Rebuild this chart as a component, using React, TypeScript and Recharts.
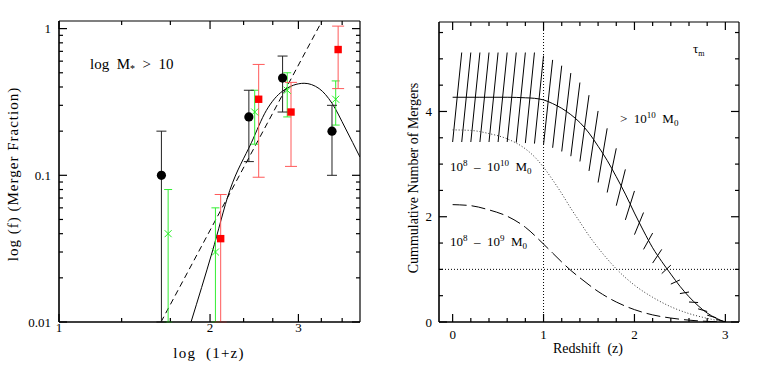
import React from 'react';
import { ComposedChart, Line, Scatter, XAxis, YAxis, ErrorBar, ReferenceLine } from 'recharts';

const FONT = '"Liberation Serif", "Times New Roman", serif';

// ---------- Left panel data ----------
const blackX = [1.6, 2.39, 2.79, 3.5];
const blackY = [0.1, 0.25, 0.46, 0.2];
const blackLo = [0.01, 0.124, 0.27, 0.1];
const blackHi = [0.2, 0.38, 0.65, 0.3];

const redX = [2.1, 2.5, 2.9, 3.6];
const redY = [0.037, 0.33, 0.27, 0.72];
const redLo = [0.01, 0.097, 0.115, 0.39];
const redHi = [0.074, 0.57, 0.43, 1.04];

const greenX = [1.65, 2.05, 2.455, 2.85, 3.56];
const greenY = [0.04, 0.03, 0.27, 0.38, 0.33];
const greenLo = [0.01, 0.01, 0.163, 0.25, 0.22];
const greenHi = [0.08, 0.06, 0.38, 0.5, 0.44];

const modelX = [1.833, 2.02, 2.19, 2.42, 2.59, 2.79, 3.08, 3.3, 3.5, 3.72, 3.98];
const modelY = [0.01, 0.03, 0.079, 0.168, 0.277, 0.375, 0.424, 0.39, 0.31, 0.21, 0.133];

const powerX = [1.597, 3.34];
const powerY = [0.01, 1.12];

const leftXDomain = [1, 3.98];
const leftYDomain = [0.01, 1.127];
const leftXTicks = [1, 1.333, 1.667, 2, 2.333, 2.667, 3, 3.333, 3.667];
const leftXMajor = [1, 2, 3];
const leftXLabels = ['1', '2', '3'];
const leftYTicks = [0.01, 0.02, 0.03, 0.04, 0.05, 0.06, 0.07, 0.08, 0.09, 0.1, 0.2, 0.3, 0.4, 0.5, 0.6, 0.7, 0.8, 0.9, 1];
const leftYMajor = [0.01, 0.1, 1];
const leftYLabels = ['0.01', '0.1', '1'];

// ---------- Right panel data ----------
const zSolid = [0, 0.3, 0.6, 0.8, 0.9, 1.0, 1.1, 1.2, 1.3, 1.4, 1.5, 1.6, 1.7, 1.8, 1.9, 2.0, 2.1, 2.2, 2.3, 2.4, 2.5, 2.6, 2.7, 2.8, 2.9, 3.0];
const nSolid = [4.27, 4.27, 4.27, 4.26, 4.25, 4.22, 4.15, 4.06, 3.94, 3.79, 3.59, 3.34, 3.07, 2.76, 2.43, 2.07, 1.73, 1.41, 1.15, 0.91, 0.68, 0.48, 0.31, 0.17, 0.07, 0.0];

const zDotted = [0, 0.2, 0.4, 0.6, 0.8, 0.9, 1.0, 1.1, 1.2, 1.3, 1.4, 1.5, 1.6, 1.7, 1.8, 2.0, 2.2, 2.4, 2.6, 2.8, 3.0];
const nDotted = [3.65, 3.64, 3.58, 3.48, 3.29, 3.14, 2.94, 2.7, 2.44, 2.16, 1.9, 1.64, 1.41, 1.2, 1.01, 0.7, 0.47, 0.29, 0.16, 0.07, 0.0];

const zDashed = [0, 0.2, 0.4, 0.6, 0.8, 1.0, 1.1, 1.2, 1.3, 1.4, 1.6, 1.8, 2.0, 2.2, 2.4, 2.6, 2.8, 3.0];
const nDashed = [2.23, 2.21, 2.13, 2.01, 1.8, 1.48, 1.31, 1.14, 0.98, 0.84, 0.58, 0.38, 0.235, 0.135, 0.075, 0.035, 0.012, 0.0];

const hatchStart = [0, 0.1, 0.2, 0.3, 0.4, 0.5, 0.6, 0.7, 0.8, 0.9, 1.0, 1.1, 1.2, 1.3, 1.4, 1.5, 1.6, 1.7, 1.8, 1.9, 2.0, 2.1, 2.2, 2.3, 2.4, 2.5, 2.6, 2.7, 2.8, 2.9];
const hatchEnd = [0.1, 0.2, 0.3, 0.4, 0.5, 0.6, 0.7, 0.8, 0.9, 1.0, 1.1, 1.2, 1.3, 1.4, 1.5, 1.6, 1.7, 1.8, 1.9, 2.0, 2.1, 2.2, 2.3, 2.4, 2.5, 2.6, 2.7, 2.8, 2.9, 3.0];
const hatchLo = [3.42, 3.42, 3.42, 3.42, 3.42, 3.42, 3.42, 3.41, 3.4, 3.39, 3.37, 3.31, 3.24, 3.15, 3.05, 2.87, 2.65, 2.46, 2.21, 1.94, 1.66, 1.38, 1.12, 0.92, 0.72, 0.54, 0.38, 0.25, 0.13, 0.05];
const hatchHi = [5.12, 5.12, 5.12, 5.12, 5.12, 5.12, 5.12, 5.12, 5.12, 5.06, 4.98, 4.87, 4.73, 4.55, 4.31, 4.01, 3.68, 3.3, 2.9, 2.49, 2.08, 1.69, 1.38, 1.08, 0.8, 0.57, 0.37, 0.2, 0.08, 0.0];

const rightXDomain = [-0.15, 3.15];
const rightYDomain = [0, 5.7];
const rightXTicks = [0, 0.2, 0.4, 0.6, 0.8, 1, 1.2, 1.4, 1.6, 1.8, 2, 2.2, 2.4, 2.6, 2.8, 3];
const rightXMajor = [0, 1, 2, 3];
const rightXLabels = ['0', '1', '2', '3'];
const rightYTicks = [0, 0.5, 1, 1.5, 2, 2.5, 3, 3.5, 4, 4.5, 5, 5.5];
const rightYMajor = [0, 2, 4];
const rightYLabels = ['0', '2', '4'];

// ---------- Derived tables ----------
const PLOT = 301; // plot box size in px (both panels are ~301 px square)
const toPoints = (xs: number[], ys: number[]) => xs.map((x, i) => ({ x, y: ys[i] }));
const toErr = (xs: number[], ys: number[], lo: number[], hi: number[]) =>
  xs.map((x, i) => ({ x, y: ys[i], err: [ys[i] - lo[i], hi[i] - ys[i]] }));

const near = (a: number, b: number) => Math.abs(a - b) < 1e-6;
const isMajor = (majors: number[], v: number) => majors.some((m) => near(m, v));
const tickLen = (majors: number[], v: number) => (isMajor(majors, v) ? 8 : 4);

// move a domain value by px pixels along a log or linear axis
const stepLog = (d: number[], v: number, px: number) => v * Math.pow(d[1] / d[0], px / PLOT);
const stepLin = (d: number[], v: number, px: number) => v + ((d[1] - d[0]) * px) / PLOT;

type Seg = [{ x: number; y: number }, { x: number; y: number }];
const tickSegments = (
  xt: number[], xm: number[], yt: number[], ym: number[], xd: number[], yd: number[],
  sx: (d: number[], v: number, px: number) => number, sy: (d: number[], v: number, px: number) => number,
): Seg[] => [
  ...xt.flatMap((v): Seg[] => [
    [{ x: v, y: yd[0] }, { x: v, y: sy(yd, yd[0], tickLen(xm, v)) }],
    [{ x: v, y: yd[1] }, { x: v, y: sy(yd, yd[1], -tickLen(xm, v)) }],
  ]),
  ...yt.flatMap((v): Seg[] => [
    [{ x: xd[0], y: v }, { x: sx(xd, xd[0], tickLen(ym, v)), y: v }],
    [{ x: xd[1], y: v }, { x: sx(xd, xd[1], -tickLen(ym, v)), y: v }],
  ]),
];

const blackData = toErr(blackX, blackY, blackLo, blackHi);
const redData = toErr(redX, redY, redLo, redHi);
const greenData = toErr(greenX, greenY, greenLo, greenHi);
const modelData = toPoints(modelX, modelY);
const powerData = toPoints(powerX, powerY);
const solidData = toPoints(zSolid, nSolid);
const dottedData = toPoints(zDotted, nDotted);
const dashedData = toPoints(zDashed, nDashed);
const hatchData = hatchStart.map((z, i) => [
  { x: z, y: hatchLo[i] },
  { x: hatchEnd[i], y: hatchHi[i] },
]);
const leftTickSegs = tickSegments(leftXTicks, leftXMajor, leftYTicks, leftYMajor, leftXDomain, leftYDomain, stepLog, stepLog);
const rightTickSegs = tickSegments(rightXTicks, rightXMajor, rightYTicks, rightYMajor, rightXDomain, rightYDomain, stepLin, stepLin);

// axis tick labels (majors only)
const makeLabel = (side: 'bottom' | 'left', majors: number[], labels: string[], gap: number) => (props: any) => {
  const x = Number(props.x);
  const y = Number(props.y);
  const mi = majors.findIndex((m) => near(m, props.payload.value));
  if (mi < 0) return <g />;
  return side === 'bottom' ? (
    <text x={x} y={y + gap} textAnchor="middle" dominantBaseline="central" fontFamily={FONT} fontSize={13} fill="#000">{labels[mi]}</text>
  ) : (
    <text x={x - gap} y={y} textAnchor="end" dominantBaseline="central" fontFamily={FONT} fontSize={13} fill="#000">{labels[mi]}</text>
  );
};

const CircleShape = (p: any) => <circle cx={p.cx} cy={p.cy} r={4.6} fill="#000" />;
const SquareShape = (p: any) => <rect x={p.cx - 3.7} y={p.cy - 3.7} width={7.4} height={7.4} fill="#ff0000" />;
const CrossShape = (p: any) => (
  <g stroke="#22ee22" strokeWidth={1}>
    <line x1={p.cx - 3.5} y1={p.cy - 3.5} x2={p.cx + 3.5} y2={p.cy + 3.5} />
    <line x1={p.cx - 3.5} y1={p.cy + 3.5} x2={p.cx + 3.5} y2={p.cy - 3.5} />
  </g>
);

const lineCommon = { dot: false, activeDot: false, isAnimationActive: false, dataKey: 'y' };

const Frame = (xd: number[], yd: number[]) => [
  <ReferenceLine key="f1" x={xd[0]} stroke="#000" strokeWidth={1.2} />,
  <ReferenceLine key="f2" x={xd[1]} stroke="#000" strokeWidth={1.2} />,
  <ReferenceLine key="f3" y={yd[0]} stroke="#000" strokeWidth={1.2} />,
  <ReferenceLine key="f4" y={yd[1]} stroke="#000" strokeWidth={1.2} />,
];

const LeftChart = () => (
  <ComposedChart width={380} height={381} margin={{ top: 21, right: 20, bottom: 0, left: 0 }}>
    <XAxis type="number" dataKey="x" scale="log" domain={leftXDomain} ticks={leftXTicks} height={59} interval={0}
      tickSize={0} tickMargin={0} tickLine={false} axisLine={{ stroke: '#000' }} allowDataOverflow
      tick={makeLabel('bottom', leftXMajor, leftXLabels, 5)} />
    <YAxis type="number" dataKey="y" scale="log" domain={leftYDomain} ticks={leftYTicks} width={59} interval={0}
      tickSize={0} tickMargin={0} tickLine={false} axisLine={{ stroke: '#000' }} allowDataOverflow
      tick={makeLabel('left', leftYMajor, leftYLabels, 8)} />
    {Frame(leftXDomain, leftYDomain)}
    {leftTickSegs.map((s, i) => (
      <ReferenceLine key={'lt' + i} segment={s} stroke="#000" strokeWidth={1.2} />
    ))}
    <Line {...lineCommon} data={powerData} type="linear" stroke="#000" strokeWidth={1} strokeDasharray="6 4" />
    <Line {...lineCommon} data={modelData} type="monotone" stroke="#000" strokeWidth={1} />
    <Scatter data={greenData} dataKey="y" shape={CrossShape} isAnimationActive={false}>
      <ErrorBar dataKey="err" direction="y" width={4} stroke="#33ee33" strokeWidth={1} />
    </Scatter>
    <Scatter data={redData} dataKey="y" shape={SquareShape} isAnimationActive={false}>
      <ErrorBar dataKey="err" direction="y" width={6} stroke="#ff5a5a" strokeWidth={1} />
    </Scatter>
    <Scatter data={blackData} dataKey="y" shape={CircleShape} isAnimationActive={false}>
      <ErrorBar dataKey="err" direction="y" width={5} stroke="#222" strokeWidth={1} />
    </Scatter>
  </ComposedChart>
);

const RightChart = () => (
  <ComposedChart width={381} height={381} margin={{ top: 22, right: 22, bottom: 0, left: 0 }}>
    <XAxis type="number" dataKey="x" domain={rightXDomain} ticks={rightXTicks} height={59} interval={0}
      tickSize={0} tickMargin={0} tickLine={false} axisLine={{ stroke: '#000' }} allowDataOverflow
      tick={makeLabel('bottom', rightXMajor, rightXLabels, 12)} />
    <YAxis type="number" dataKey="y" domain={rightYDomain} ticks={rightYTicks} width={59} interval={0}
      tickSize={0} tickMargin={0} tickLine={false} axisLine={{ stroke: '#000' }} allowDataOverflow
      tick={makeLabel('left', rightYMajor, rightYLabels, 7)} />
    {Frame(rightXDomain, rightYDomain)}
    {rightTickSegs.map((s, i) => (
      <ReferenceLine key={'rt' + i} segment={s} stroke="#000" strokeWidth={1.2} />
    ))}
    <ReferenceLine x={1} stroke="#000" strokeWidth={1} strokeDasharray="1 2" />
    <ReferenceLine y={1} stroke="#000" strokeWidth={1} strokeDasharray="1 2" />
    {hatchData.map((d, i) => (
      <Line key={'h' + i} {...lineCommon} data={d} type="linear" stroke="#000" strokeWidth={1} />
    ))}
    <Line {...lineCommon} data={dashedData} type="monotone" stroke="#000" strokeWidth={1} strokeDasharray="14 5" />
    <Line {...lineCommon} data={dottedData} type="monotone" stroke="#333" strokeWidth={1} strokeDasharray="1 2" />
    <Line {...lineCommon} data={solidData} type="monotone" stroke="#000" strokeWidth={1} />
  </ComposedChart>
);

const Overlay = () => (
  <svg width={761} height={381} style={{ position: 'absolute', left: 0, top: 0, pointerEvents: 'none' }}
    fontFamily={FONT} fill="#000">
    <text x={13} y={174} transform="rotate(-90 13 174)" textAnchor="middle" dominantBaseline="central" fontSize={15} style={{ whiteSpace: 'pre' }} letterSpacing={1}>
      log (f) (Merger Fraction)
    </text>
    <text x={209} y={353} textAnchor="middle" dominantBaseline="central" fontSize={15} style={{ whiteSpace: 'pre' }} letterSpacing={1.2}>
      log  (1+z)
    </text>
    <text x={90} y={69} fontSize={15} style={{ whiteSpace: 'pre' }}>
      log  M<tspan dy={3} fontSize={10}>*</tspan><tspan dy={-3}>  &gt;  10</tspan>
    </text>
    <text x={413} y={178} transform="rotate(-90 413 178)" textAnchor="middle" dominantBaseline="central" fontSize={14} style={{ whiteSpace: 'pre' }}>
      Cummulative Number of Mergers
    </text>
    <text x={588} y={348} textAnchor="middle" dominantBaseline="central" fontSize={14} style={{ whiteSpace: 'pre' }}>
      Redshift  (z)
    </text>
    <text x={620} y={123} fontSize={13} style={{ whiteSpace: 'pre' }}>
      &gt;  10<tspan dy={-5} fontSize={9}>10</tspan><tspan dy={5}>  M</tspan><tspan dy={3} fontSize={9}>0</tspan>
    </text>
    <text x={450} y={171} fontSize={13} style={{ whiteSpace: 'pre' }}>
      10<tspan dy={-5} fontSize={9}>8</tspan><tspan dy={5}>  –  10</tspan><tspan dy={-5} fontSize={9}>10</tspan><tspan dy={5}>  M</tspan><tspan dy={3} fontSize={9}>0</tspan>
    </text>
    <text x={450} y={246} fontSize={13} style={{ whiteSpace: 'pre' }}>
      10<tspan dy={-5} fontSize={9}>8</tspan><tspan dy={5}>  –  10</tspan><tspan dy={-5} fontSize={9}>9</tspan><tspan dy={5}>  M</tspan><tspan dy={3} fontSize={9}>0</tspan>
    </text>
    <text x={693} y={53} fontSize={13}>
      τ<tspan dy={3} fontSize={8}>m</tspan>
    </text>
  </svg>
);

export default function App() {
  return (
    <div style={{ position: 'absolute', left: 0, top: 0, width: 761, height: 381, background: '#fff', display: 'flex', flexDirection: 'row', alignItems: 'flex-start' }}>
      <LeftChart />
      <RightChart />
      <Overlay />
    </div>
  );
}
